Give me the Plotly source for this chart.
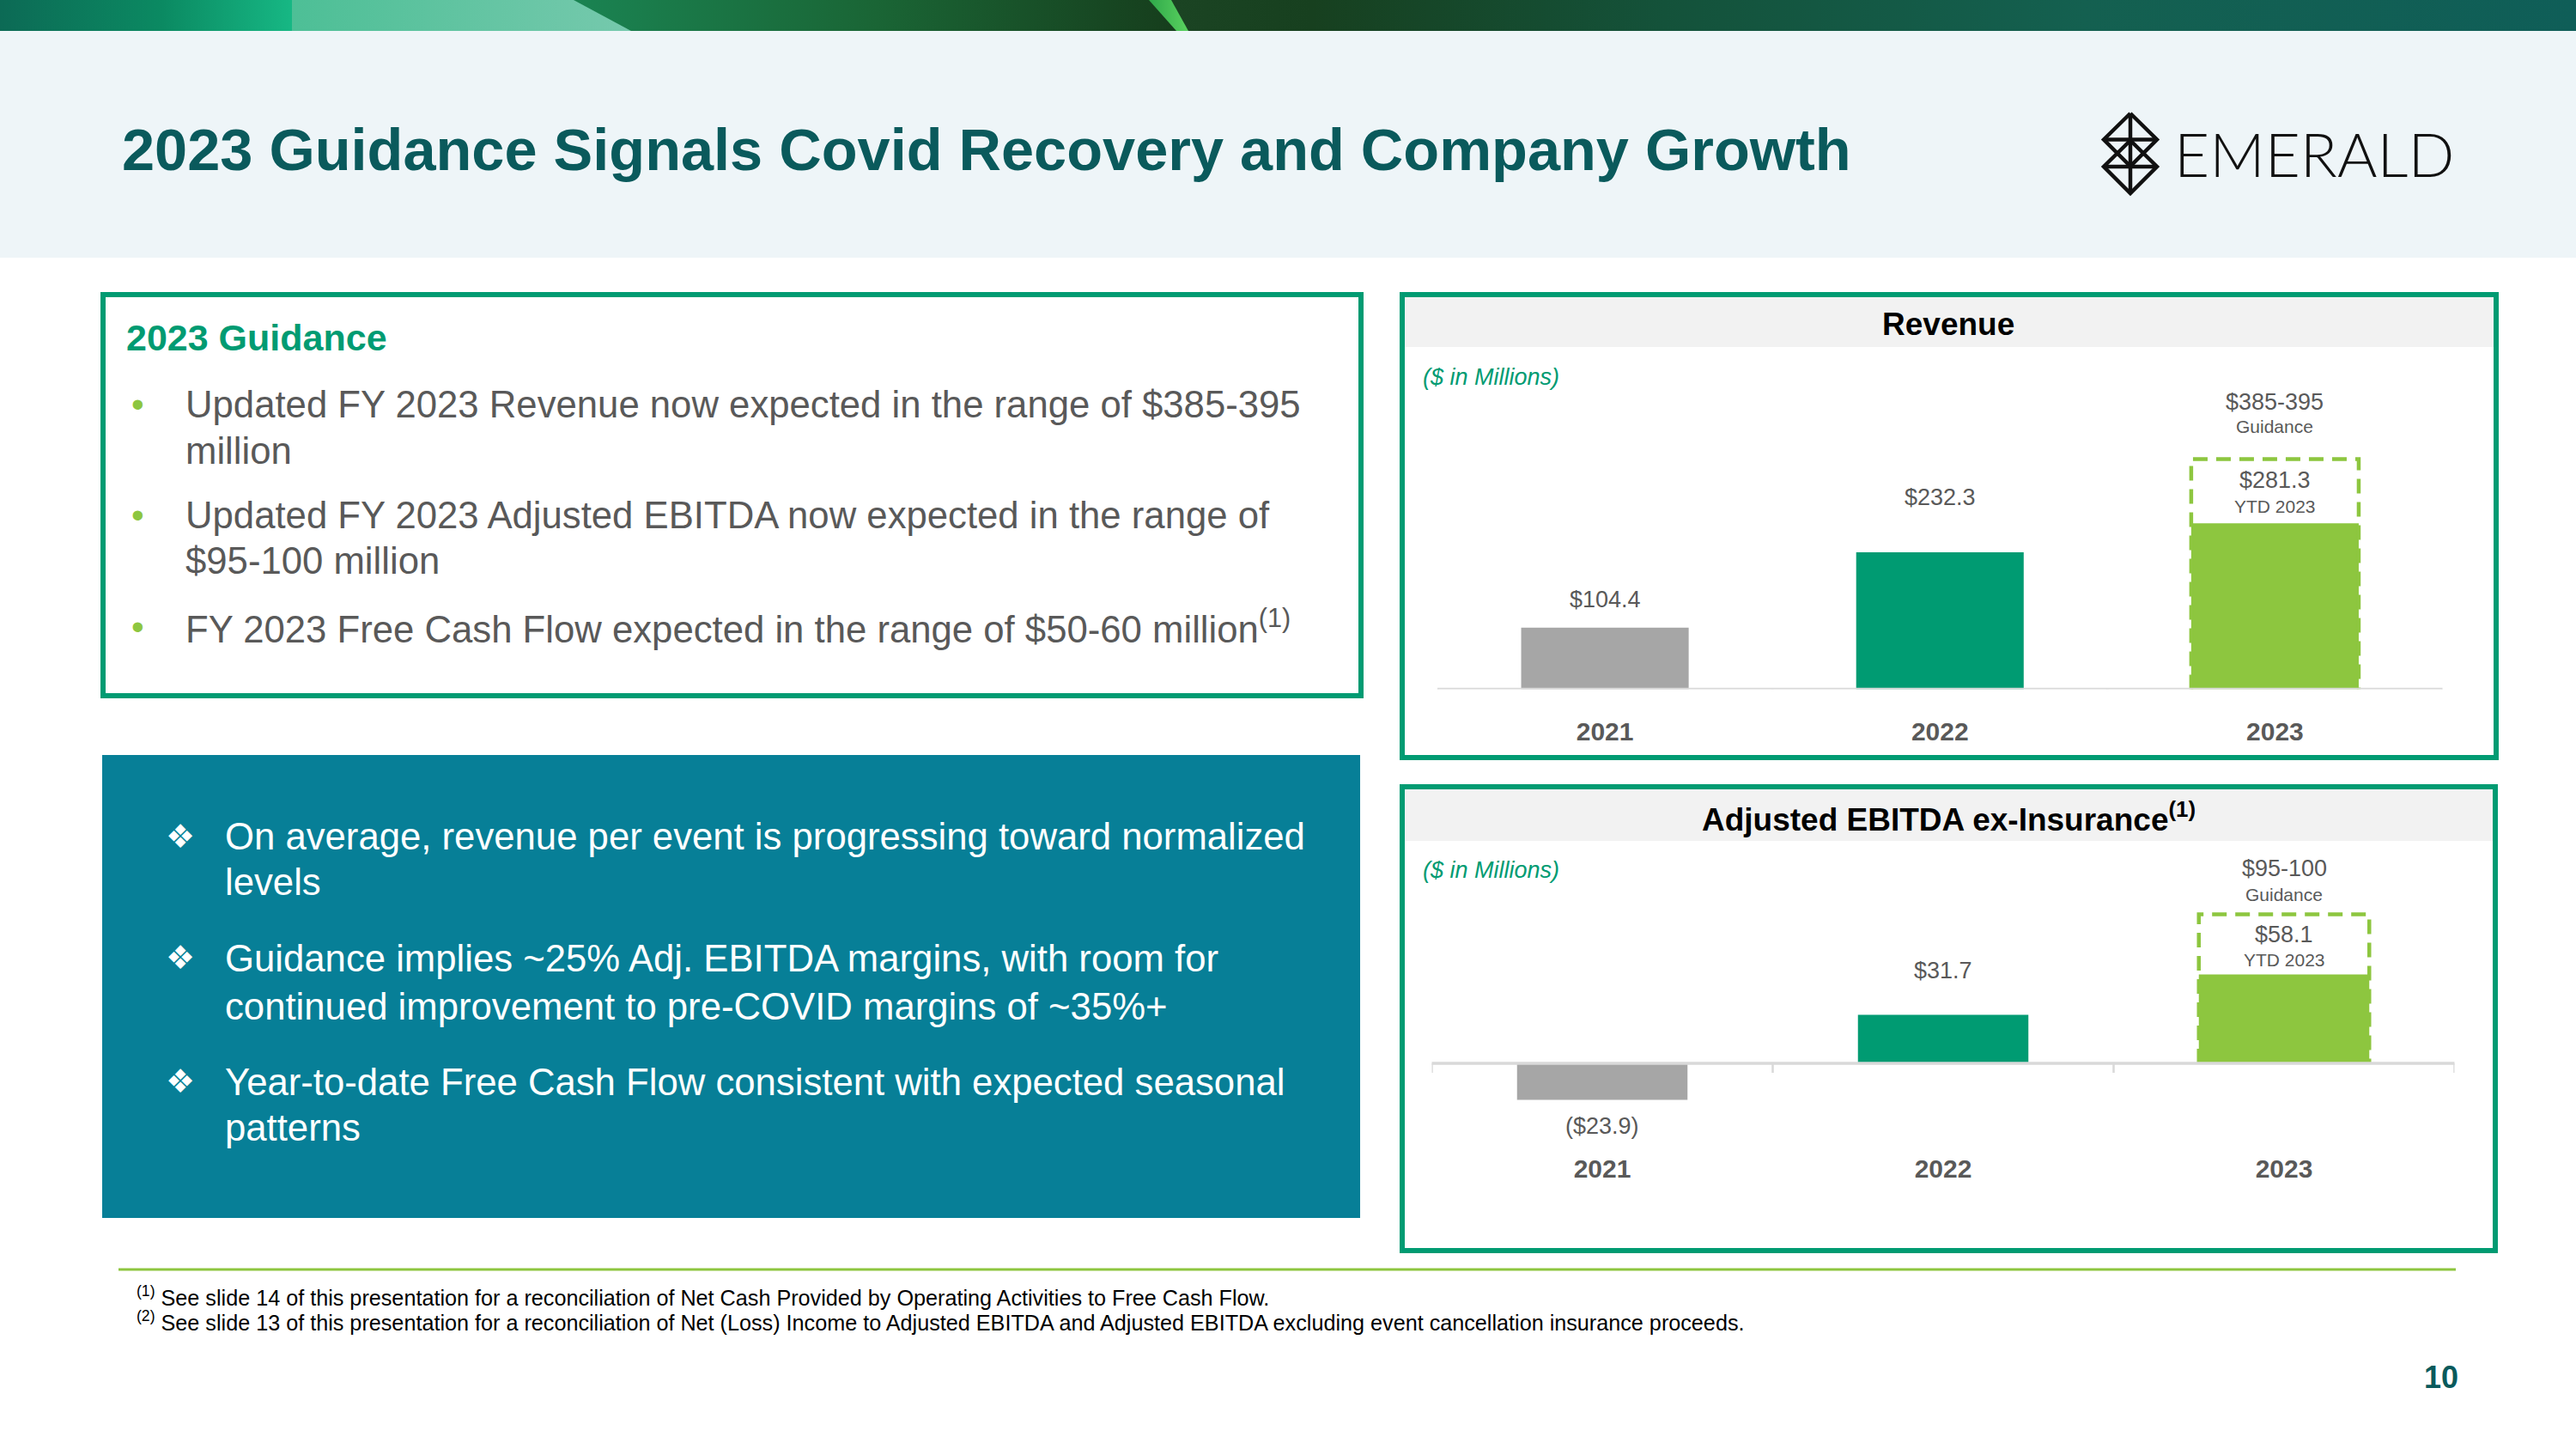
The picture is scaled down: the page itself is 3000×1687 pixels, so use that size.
import plotly.graph_objects as go

W, H = 3000, 1687

# ---------------- data ----------------
years = ["2021", "2022", "2023"]
revenue = [104.4, 232.3, 281.3]
revenue_guidance = [385, 395]
ebitda = [-23.9, 31.7, 58.1]
ebitda_guidance = [95, 100]
bar_colors = ["#A6A6A6", "#009B72", "#8DC63F"]

title_text = "2023 Guidance Signals Covid Recovery and Company Growth"
guidance_heading = "2023 Guidance"
guidance_bullets = [
    ["Updated FY 2023 Revenue now expected in the range of $385-395", "million"],
    ["Updated FY 2023 Adjusted EBITDA now expected in the range of", "$95-100 million"],
    ["FY 2023 Free Cash Flow expected in the range of $50-60 million<sup>(1)</sup>"],
]
teal_bullets = [
    ["On average, revenue per event is progressing toward normalized", "levels"],
    ["Guidance implies ~25% Adj. EBITDA margins, with room for",
     "continued improvement to pre-COVID margins of ~35%+"],
    ["Year-to-date Free Cash Flow consistent with expected seasonal", "patterns"],
]
footnotes = [
    "<sup>(1)</sup> See slide 14 of this presentation for a reconciliation of Net Cash Provided by "
    "Operating Activities to Free Cash Flow.",
    "<sup>(2)</sup> See slide 13 of this presentation for a reconciliation of Net (Loss) Income to "
    "Adjusted EBITDA and Adjusted EBITDA excluding event cancellation insurance proceeds.",
]
rev_title = "Revenue"
ebitda_title = "Adjusted EBITDA ex-Insurance<sup>(1)</sup>"
units_text = "($ in Millions)"
ytd_text = "YTD 2023"
guid_text = "Guidance"
page_number = "10"

# ---------------- style ----------------
FONT = "Liberation Sans, Arial, sans-serif"
GRAY_TXT = "#595959"
GREEN = "#009B72"
LIGHT_GREEN = "#8DC63F"
TEAL = "#077F97"
TITLE_COLOR = "#0A5A5C"
AXIS_GRAY = "#D9D9D9"


def px(x):
    return x / W


def py(y):
    return 1 - y / H


def money(v):
    return f"${v:.1f}" if v >= 0 else f"(${-v:.1f})"


fig = go.Figure()

# ---------------- top banner (decorative gradient) ----------------
banner = [
    ([0, 345, 345, 0], [0, 0, 36, 36], [[0, "#0C6A55"], [0.55, "#0B8A62"], [1, "#17B985"]]),
    ([340, 739, 672, 340], [0, 0, 36, 36], [[0, "#4DBF96"], [1, "#76C9AD"]]),
    ([735, 1374, 1345, 668], [0, 0, 36, 36], [[0, "#1A8352"], [0.5, "#1A6535"], [1, "#163D1C"]]),
    ([1370, 1386, 1366, 1338], [0, 0, 36, 36], [[0, "#2FA84A"], [1, "#5CD460"]]),
    ([1384, 3000, 3000, 1364], [0, 0, 36, 36],
     [[0, "#1B4423"], [0.1, "#17401F"], [0.35, "#14523A"], [0.65, "#146050"], [1, "#0F5E58"]]),
]
for xs, ys, cs in banner:
    fig.add_trace(go.Scatter(
        x=xs + [xs[0]], y=ys + [ys[0]], mode="lines", line=dict(width=0),
        fill="toself", fillgradient=dict(type="horizontal", colorscale=cs),
        xaxis="x3", yaxis="y3", hoverinfo="skip"))

# ---------------- charts ----------------
xi = list(range(len(years)))
hw = 0.25
last = len(years) - 1

fig.add_trace(go.Bar(x=xi, y=revenue, width=2 * hw, marker=dict(color=bar_colors, line=dict(width=0)),
                     xaxis="x", yaxis="y", hoverinfo="skip"))
rev_mid = sum(revenue_guidance) / 2
fig.add_trace(go.Scatter(x=[last - hw, last - hw, last + hw, last + hw], y=[0, rev_mid, rev_mid, 0],
                         mode="lines", line=dict(color=LIGHT_GREEN, width=4.5, dash="17px,10px"),
                         xaxis="x", yaxis="y", hoverinfo="skip"))

fig.add_trace(go.Bar(x=xi, y=ebitda, width=2 * hw, marker=dict(color=bar_colors, line=dict(width=0)),
                     xaxis="x2", yaxis="y2", hoverinfo="skip"))
eb_mid = sum(ebitda_guidance) / 2
fig.add_trace(go.Scatter(x=[last - hw, last - hw, last + hw, last + hw], y=[0, eb_mid, eb_mid, 0],
                         mode="lines", line=dict(color=LIGHT_GREEN, width=4.5, dash="17px,10px"),
                         xaxis="x2", yaxis="y2", hoverinfo="skip"))

# axis geometry (pixels)
rev_base, rev_top, rev_scale = 802.5, 420, 0.687
eb_base, eb_bottom, eb_top, eb_scale = 1238, 1300, 980, 1.78

tickfont = dict(family=FONT, size=30, color=GRAY_TXT, weight="bold")

fig.update_layout(
    width=W, height=H, margin=dict(l=0, r=0, t=0, b=0),
    paper_bgcolor="white", plot_bgcolor="rgba(0,0,0,0)", showlegend=False,
    xaxis=dict(domain=[px(1674), px(2844.5)], range=[-0.5, len(years) - 0.5], anchor="y",
               tickvals=xi, ticktext=years, tickfont=tickfont, ticks="", showgrid=False,
               zeroline=False, showline=False, ticklabelstandoff=28, fixedrange=True),
    yaxis=dict(domain=[py(rev_base), py(rev_top)], range=[0, (rev_base - rev_top) / rev_scale],
               visible=False, fixedrange=True),
    xaxis2=dict(domain=[px(1667.5), px(2858.5)], range=[-0.5, len(years) - 0.5], anchor="y2",
                tickvals=xi, ticktext=years, tickfont=tickfont, ticks="", showgrid=False,
                zeroline=False, showline=False, ticklabelstandoff=40, fixedrange=True),
    yaxis2=dict(domain=[py(eb_bottom), py(eb_top)],
                range=[-(eb_bottom - eb_base) / eb_scale, (eb_base - eb_top) / eb_scale],
                visible=False, fixedrange=True),
    xaxis3=dict(domain=[0, 1], range=[0, W], anchor="y3", visible=False, fixedrange=True),
    yaxis3=dict(domain=[py(36), 1], range=[0, 36], anchor="x3", visible=False, fixedrange=True),
)

shapes = []
# light header band
shapes.append(dict(type="rect", xref="paper", yref="paper", x0=0, x1=1, y0=py(300), y1=py(36),
                   fillcolor="#EEF5F8", line=dict(width=0), layer="below"))
# left guidance box
shapes.append(dict(type="rect", xref="paper", yref="paper", x0=px(120), x1=px(1585), y0=py(810), y1=py(343),
                   fillcolor="white", line=dict(color=GREEN, width=6), layer="below"))
# teal box
shapes.append(dict(type="rect", xref="paper", yref="paper", x0=px(119), x1=px(1584), y0=py(1418), y1=py(879),
                   fillcolor=TEAL, line=dict(width=0), layer="below"))
# revenue panel
shapes.append(dict(type="rect", xref="paper", yref="paper", x0=px(1633), x1=px(2907), y0=py(882), y1=py(343),
                   fillcolor="white", line=dict(color=GREEN, width=6), layer="below"))
shapes.append(dict(type="rect", xref="paper", yref="paper", x0=px(1636), x1=px(2904), y0=py(404), y1=py(346),
                   fillcolor="#F2F2F2", line=dict(width=0), layer="below"))
# ebitda panel
shapes.append(dict(type="rect", xref="paper", yref="paper", x0=px(1633), x1=px(2906), y0=py(1456), y1=py(916),
                   fillcolor="white", line=dict(color=GREEN, width=6), layer="below"))
shapes.append(dict(type="rect", xref="paper", yref="paper", x0=px(1636), x1=px(2903), y0=py(979), y1=py(919),
                   fillcolor="#F2F2F2", line=dict(width=0), layer="below"))
# footnote separator
shapes.append(dict(type="line", xref="paper", yref="paper", x0=px(138), x1=px(2860), y0=py(1478), y1=py(1478),
                   line=dict(color=LIGHT_GREEN, width=3)))
# baselines and category boundary ticks
for xa, ya in (("x", "y"), ("x2", "y2")):
    shapes.append(dict(type="line", xref=f"{xa} domain", yref=ya, x0=0, x1=1, y0=0, y1=0,
                       line=dict(color=AXIS_GRAY, width=3.5), layer="above"))
    for b in range(len(years) + 1):
        shapes.append(dict(type="line", xref=xa, yref=ya, ysizemode="pixel", yanchor=0,
                           x0=b - 0.5, x1=b - 0.5, y0=0, y1=-11,
                           line=dict(color=AXIS_GRAY, width=2.5), layer="above"))
# logo icon
lx0, lxc, lx1 = 2450, 2481, 2512
logo_paths = [
    [(lxc, 132), (lx0, 162.5), (lxc, 193.5), (lx1, 162.5), (lxc, 132)],
    [(lxc, 163.5), (lx0, 194), (lxc, 225), (lx1, 194), (lxc, 163.5)],
    [(lxc, 132), (lxc, 225)],
    [(lx0, 162.5), (lx1, 162.5)],
    [(lx0, 194), (lx1, 194)],
]
for pts in logo_paths:
    path = "M " + " L ".join(f"{px(a):.5f},{py(b):.5f}" for a, b in pts)
    shapes.append(dict(type="path", xref="paper", yref="paper", path=path,
                       line=dict(color="#111111", width=4.5)))
fig.update_layout(shapes=shapes)

ann = []


def txt(x, y, text, size, color, xanchor="left", weight="normal", style="normal", family=FONT):
    ann.append(dict(x=px(x), y=py(y), xref="paper", yref="paper", text=text, showarrow=False,
                    xanchor=xanchor, yanchor="middle", align="left",
                    font=dict(family=family, size=size, color=color, weight=weight, style=style)))


# title and logo text
txt(140, 175, title_text, 68.5, TITLE_COLOR, weight="bold")
txt(2530, 179, "EMERALD", 71, "#111111", weight=300, family="Lato, Noto Sans, sans-serif")

# guidance box
txt(145, 393, guidance_heading, 43, GREEN, weight="bold")
guid_y = [[470, 524], [599, 652.5], [729]]
for lines, ys in zip(guidance_bullets, guid_y):
    txt(151, ys[0], "•", 42, LIGHT_GREEN)
    for line, yy in zip(lines, ys):
        txt(214, yy, line, 43.7, GRAY_TXT)

# teal box
teal_y = [[974, 1026], [1115, 1171], [1259, 1312]]
for lines, ys in zip(teal_bullets, teal_y):
    txt(210, ys[0], "❖", 38, "white", xanchor="center", family="DejaVu Sans")
    for line, yy in zip(lines, ys):
        txt(260, yy, line, 43.7, "white")

# panels headers
txt(2269, 378, rev_title, 37, "black", xanchor="center", weight="bold")
txt(2269, 951, ebitda_title, 37, "black", xanchor="center", weight="bold")
txt(1655, 439, units_text, 27, GREEN, style="italic")
txt(1655, 1013, units_text, 27, GREEN, style="italic")

# footnotes and page number
txt(157, 1509, footnotes[0], 25.2, "black")
txt(157, 1538, footnotes[1], 25.2, "black")
txt(2843, 1603, page_number, 36, TITLE_COLOR, xanchor="center", weight="bold")


def dlabel(xa, ya, x, y, text, size, shift):
    ann.append(dict(x=x, y=y, xref=xa, yref=ya, text=text, showarrow=False, xanchor="center",
                    yanchor="middle", yshift=shift, font=dict(family=FONT, size=size, color=GRAY_TXT)))


rev_shift = [33, 64, 50]
for i, v in enumerate(revenue):
    dlabel("x", "y", i, v, money(v), 27, rev_shift[i])
dlabel("x", "y", last, revenue[last], ytd_text, 21, 20)
dlabel("x", "y", last, rev_mid, f"${revenue_guidance[0]}-{revenue_guidance[1]}", 27, 67)
dlabel("x", "y", last, rev_mid, guid_text, 21, 38)

eb_shift = [-30, 52, 47]
for i, v in enumerate(ebitda):
    dlabel("x2", "y2", i, v, money(v), 27, eb_shift[i])
dlabel("x2", "y2", last, ebitda[last], ytd_text, 21, 17.5)
dlabel("x2", "y2", last, eb_mid, f"${ebitda_guidance[0]}-{ebitda_guidance[1]}", 27, 53)
dlabel("x2", "y2", last, eb_mid, guid_text, 21, 22.5)

fig.update_layout(annotations=ann)
fig.write_html("out.html", config={"displayModeBar": False},
               post_script="document.body.style.margin='0px';")
